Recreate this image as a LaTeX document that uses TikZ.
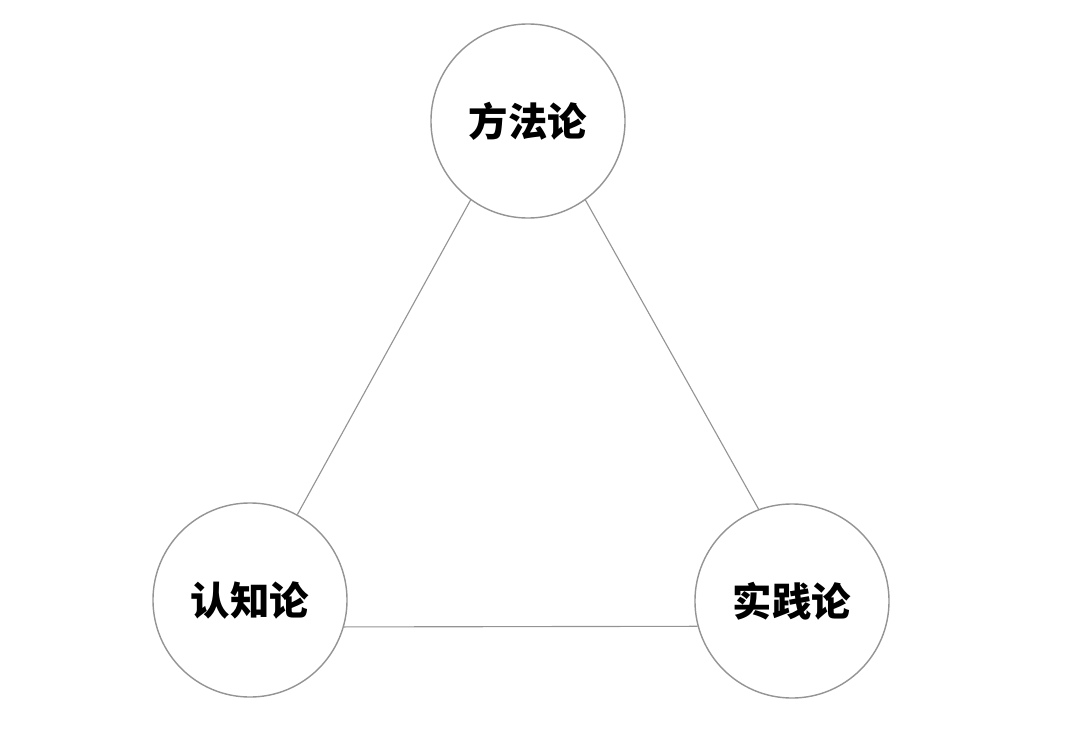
\documentclass[tikz,border=0pt]{standalone}
\usepackage{fontspec}
\newfontfamily\cjk{Noto Sans CJK SC}
\usetikzlibrary{positioning}

\begin{document}
\begin{tikzpicture}[x=0.025cm,y=-0.025cm,
		lun/.style={circle,draw=black!42,line width=1pt,fill=white,minimum size=4.85cm,inner sep=0pt,font=\cjk\bfseries\fontsize{28}{34}\selectfont},
		bian/.style={draw=black!42,line width=0.8pt}]
		\useasboundingbox (0,0) rectangle (1080,756);
		\node[lun] (fangfa) at (528,121) {方法论};
		\node[lun] (renzhi) at (250,600) {认知论};
		\node[lun] (shijian) at (792,601) {实践论};
		\draw[bian] (fangfa.234) -- (renzhi.61);
		\draw[bian] (fangfa.306) -- (shijian.110);
		\draw[bian] (renzhi.-16) -- (shijian.195);
	\end{tikzpicture}
\end{document}
